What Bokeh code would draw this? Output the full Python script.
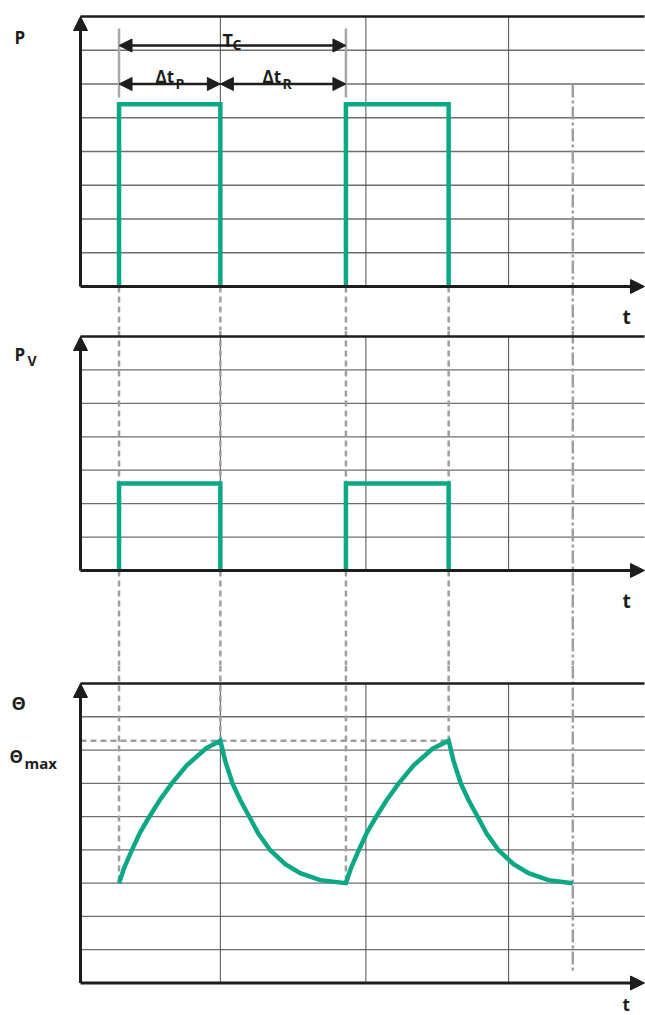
from bokeh.plotting import figure
from bokeh.layouts import column
from bokeh.models import Range1d, Arrow, NormalHead, Label
from bokeh.embed import file_html
from bokeh.resources import INLINE

# ---------------- data ----------------
pulse_on = [2.7, 18.6]          # pulse start times
pulse_off = [9.8, 25.8]         # pulse end times
p_level = 5.4                   # P pulse height
pv_level = 2.6                  # P_V pulse height
theta_max = 7.28                # Θmax level
cycle_end = 34.5                # end of second cycle (dash-dot marker)
grid_t = [9.8, 20.0, 30.0]      # vertical grid lines
p_grid = [1, 2, 3, 4, 5, 6, 7]
pv_grid = [1, 2, 3, 4, 5, 6]
th_grid = [1, 2, 3, 4, 5, 6, 7, 8]
p_top, pv_top, th_top = 8, 7, 9

theta_t = [2.7, 3.05, 3.6, 4.15, 4.8, 5.55, 6.4, 7.45, 8.8, 9.8,
           10.15, 10.65, 11.2, 11.85, 12.45, 13.3, 14.35, 15.4, 16.8, 18.6,
           18.95, 19.5, 20.05, 20.7, 21.45, 22.3, 23.35, 24.7, 25.8,
           26.15, 26.65, 27.2, 27.85, 28.45, 29.3, 30.35, 31.4, 32.8, 34.5]
theta_v = [3.0, 3.45, 3.99, 4.50, 4.98, 5.49, 6.0, 6.54, 7.05, 7.28,
           6.66, 6.0, 5.49, 4.98, 4.50, 3.99, 3.57, 3.30, 3.09, 3.0,
           3.45, 3.99, 4.50, 4.98, 5.49, 6.0, 6.54, 7.05, 7.28,
           6.66, 6.0, 5.49, 4.98, 4.50, 3.99, 3.57, 3.30, 3.09, 3.0]

# ---------------- layout ----------------
W = 645
GREEN = "#0BA886"
DASH_GRAY = "#9E9E9E"
BLACK = "#1d1d1b"
FONT = "Open Sans"


def tx(xr):
    return (xr - 80) / 14.27


x_range = Range1d(tx(0), tx(645))
X_END = tx(644)

panels = {
    "p": dict(top=0, bottom=330, axis=286, unit=33.75),
    "pv": dict(top=330, bottom=665, axis=570, unit=33.43),
    "th": dict(top=665, bottom=1015, axis=982.5, unit=33.28),
}


def make_fig(cfg):
    yr = Range1d(-(cfg["bottom"] - cfg["axis"]) / cfg["unit"],
                 (cfg["axis"] - cfg["top"]) / cfg["unit"])
    f = figure(width=W, height=cfg["bottom"] - cfg["top"], x_range=x_range, y_range=yr,
               output_backend="svg", toolbar_location=None,
               x_axis_location=None, y_axis_location=None, min_border=0,
               outline_line_color=None, background_fill_color="white",
               border_fill_color="white")
    f.xgrid.visible = False
    f.ygrid.visible = False
    return f


def ylab(cfg, yr):
    return (cfg["axis"] - yr) / cfg["unit"]


def label(f, cfg, xr, yr, text, size):
    f.add_layout(Label(x=tx(xr), y=ylab(cfg, yr), text=text,
                       text_font=FONT, text_font_size=f"{size}px",
                       text_font_style="bold", text_color=BLACK,
                       text_baseline="alphabetic", text_align="left"))


def grid(f, hvals, top):
    f.segment(x0=[0] * len(hvals), x1=[X_END] * len(hvals), y0=hvals, y1=hvals,
              line_color="#6e6e6e", line_width=1.3)
    f.segment(x0=grid_t, x1=grid_t, y0=[0] * len(grid_t), y1=[top] * len(grid_t),
              line_color="#505050", line_width=1)


def axes(f, top):
    f.segment(x0=[0], x1=[X_END], y0=[top], y1=[top], line_color=BLACK, line_width=2.5)
    f.add_layout(Arrow(x_start=0, y_start=0, x_end=X_END, y_end=0, line_width=3,
                       line_color=BLACK,
                       end=NormalHead(size=14, fill_color=BLACK, line_color=BLACK, line_width=1)))
    f.add_layout(Arrow(x_start=0, y_start=0, x_end=0, y_end=top, line_width=3,
                       line_color=BLACK,
                       end=NormalHead(size=14, fill_color=BLACK, line_color=BLACK, line_width=1)))


edges = [pulse_on[0], pulse_off[0], pulse_on[1], pulse_off[1]]

# ---------------- panel 1: P ----------------
c1 = panels["p"]
f1 = make_fig(c1)
grid(f1, p_grid, p_top)
y1_bot = f1.y_range.start
f1.segment(x0=edges, x1=edges, y0=[0] * 4, y1=[y1_bot] * 4,
           line_color=DASH_GRAY, line_width=2.5, line_dash="6 4")
f1.segment(x0=[cycle_end], x1=[cycle_end], y0=[ylab(c1, 84)], y1=[y1_bot],
           line_color=DASH_GRAY, line_width=2.5, line_dash="13 3 3 3")
# grey markers of the cycle
f1.segment(x0=pulse_on, x1=pulse_on, y0=[ylab(c1, 97)] * 2, y1=[ylab(c1, 28)] * 2,
           line_color="#A8A8A8", line_width=2.5)
f1.multi_line(xs=[[a, a, b, b] for a, b in zip(pulse_on, pulse_off)],
              ys=[[0, p_level, p_level, 0] for _ in pulse_on],
              line_color=GREEN, line_width=4.5, line_join="miter")
axes(f1, p_top)


def dim_arrow(f, x0, x1, y):
    f.add_layout(Arrow(x_start=x0, y_start=y, x_end=x1, y_end=y, line_width=2.5,
                       line_color=BLACK,
                       start=NormalHead(size=13, fill_color=BLACK, line_color=BLACK, line_width=1),
                       end=NormalHead(size=13, fill_color=BLACK, line_color=BLACK, line_width=1)))


dim_arrow(f1, pulse_on[0], pulse_on[1], ylab(c1, 45))
dim_arrow(f1, pulse_on[0], pulse_off[0], ylab(c1, 83.5))
dim_arrow(f1, pulse_off[0], pulse_on[1], ylab(c1, 83.5))

label(f1, c1, 14, 37, "P", 17)
label(f1, c1, 222, 39, "T", 18)
label(f1, c1, 232, 44, "C", 14)
label(f1, c1, 155, 76, "Δt", 17)
label(f1, c1, 175, 83, "P", 14)
label(f1, c1, 262, 76, "Δt", 17)
label(f1, c1, 282, 83, "R", 14)
label(f1, c1, 622, 316, "t", 19)

# ---------------- panel 2: P_V ----------------
c2 = panels["pv"]
f2 = make_fig(c2)
grid(f2, pv_grid, pv_top)
y2_bot, y2_top = f2.y_range.start, f2.y_range.end
f2.segment(x0=edges, x1=edges, y0=[y2_top] * 4, y1=[y2_bot] * 4,
           line_color=DASH_GRAY, line_width=2.5, line_dash="6 4")
f2.segment(x0=[cycle_end], x1=[cycle_end], y0=[y2_top], y1=[y2_bot],
           line_color=DASH_GRAY, line_width=2.5, line_dash="13 3 3 3")
f2.multi_line(xs=[[a, a, b, b] for a, b in zip(pulse_on, pulse_off)],
              ys=[[0, pv_level, pv_level, 0] for _ in pulse_on],
              line_color=GREEN, line_width=4.5, line_join="miter")
axes(f2, pv_top)
label(f2, c2, 14, 354, "P", 17)
label(f2, c2, 27, 360, "V", 14)
label(f2, c2, 622, 600, "t", 19)

# ---------------- panel 3: Θ ----------------
c3 = panels["th"]
f3 = make_fig(c3)
grid(f3, th_grid, th_top)
y3_top = f3.y_range.end
theta_at = dict(zip(theta_t, theta_v))
f3.segment(x0=edges, x1=edges, y0=[y3_top] * 4, y1=[theta_at[e] for e in edges],
           line_color=DASH_GRAY, line_width=2.5, line_dash="6 4")
f3.segment(x0=[0], x1=[pulse_off[1]], y0=[theta_max], y1=[theta_max],
           line_color=DASH_GRAY, line_width=2.5, line_dash="6 4")
f3.segment(x0=[cycle_end], x1=[cycle_end], y0=[y3_top], y1=[ylab(c3, 970)],
           line_color=DASH_GRAY, line_width=2.5, line_dash="13 3 3 3")
f3.line(theta_t, theta_v, line_color=GREEN, line_width=4.5, line_join="miter")
axes(f3, th_top)
label(f3, c3, 11, 702, "Θ", 18)
label(f3, c3, 9, 756, "Θ", 17)
label(f3, c3, 24, 762, "max", 15)
label(f3, c3, 622, 1004, "t", 17)

layout = column(f1, f2, f3, spacing=0)
open("out.html", "w").write(file_html(layout, INLINE))
